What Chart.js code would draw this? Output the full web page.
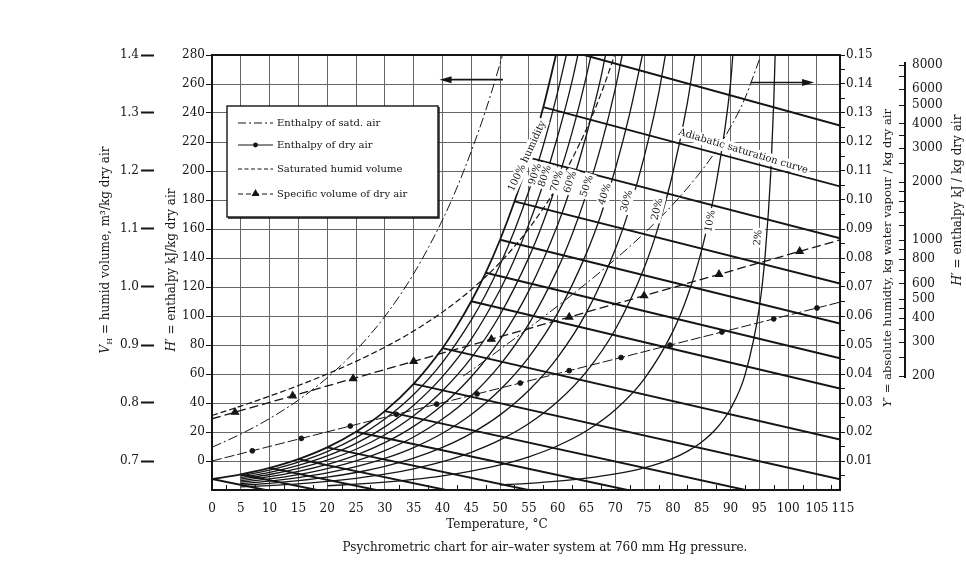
<!DOCTYPE html>
<html>
<head>
<meta charset="utf-8">
<script src="https://cdn.jsdelivr.net/npm/chart.js@4.4.0/dist/chart.umd.min.js"></script>
<style>
  html, body { margin: 0; padding: 0; background: #fff; }
</style>
</head>
<body>
<canvas id="chart" width="966" height="572"></canvas>
<script>
// ---- axis ticks ----
const tempTicks = [0, 5, 10, 15, 20, 25, 30, 35, 40, 45, 50, 55, 60, 65, 70, 75, 80, 85, 90, 95, 100, 105, 109];
const tempTickLabels = ['0', '5', '10', '15', '20', '25', '30', '35', '40', '45', '50', '55', '60', '65', '70', '75', '80', '85', '90', '95', '100', '105', '\u2002115'];
const tempMinorTicks = [2.5, 7.5, 12.5, 17.5, 22.5, 27.5, 32.5, 37.5, 42.5, 47.5, 52.5, 57.5, 62.5, 67.5, 72.5, 77.5, 82.5, 87.5, 92.5, 97.5, 102.5, 107.5];
const enthalpyTicks = [0, 20, 40, 60, 80, 100, 120, 140, 160, 180, 200, 220, 240, 260, 280];
const volumeTicks = [0.7, 0.8, 0.9, 1.0, 1.1, 1.2, 1.3, 1.4];
const humidityTicks = [0.005, 0.01, 0.015, 0.02, 0.025, 0.03, 0.035, 0.04, 0.045, 0.05, 0.055, 0.06, 0.065, 0.07, 0.075,
  0.08, 0.085, 0.09, 0.095, 0.1, 0.105, 0.11, 0.115, 0.12, 0.125, 0.13, 0.135, 0.14, 0.145, 0.15];
const logTicks = [200, 250, 300, 350, 400, 450, 500, 600, 700, 800, 900, 1000, 1200, 1400, 1600, 1800, 2000, 2500, 3000, 3500, 4000, 5000, 6000, 7000, 8000];
const logTickLabels = [200, 300, 400, 500, 600, 800, 1000, 2000, 3000, 4000, 5000, 6000, 8000];

// ---- percentage humidity curves: [temperature, Y kg/kg] ----
const rh100 = [[0,.00378],[5,.0054],[10,.00763],[15,.01065],[20,.0147],[25,.0201],[30,.0272],[35,.0366],[40,.0489],[42.5,.0565],[45,.0651],[47.5,.0749],[50,.0863],[52.5,.0995],[55,.1146],[57.5,.132],[59.7,.15]];
const rh90 = [[5,.00486],[10,.00687],[15,.00959],[20,.01323],[25,.01808],[30,.02449],[35,.03292],[40,.044],[45,.05855],[47.5,.0674],[50,.0777],[52.5,.0895],[55,.1031],[57.5,.1188],[60,.1373],[61.5,.15]];
const rh80 = [[5,.00432],[10,.0061],[15,.00852],[20,.01176],[25,.01607],[30,.02177],[35,.02926],[40,.03911],[45,.05205],[50,.06907],[52.5,.0796],[55,.09168],[57.5,.1056],[60,.122],[62.5,.141],[63.5,.15]];
const rh70 = [[5,.00378],[10,.00534],[15,.00746],[20,.01029],[25,.01406],[30,.01905],[35,.02561],[40,.03422],[45,.04554],[50,.06044],[55,.08022],[57.5,.0924],[60,.1068],[62.5,.1233],[65,.1429],[65.8,.15]];
const rh60 = [[5,.00324],[10,.00458],[15,.00639],[20,.00882],[25,.01205],[30,.01633],[35,.02195],[40,.02933],[45,.03904],[50,.0518],[55,.06876],[60,.0915],[62.5,.1057],[65,.1225],[67.5,.1422],[68.3,.15]];
const rh50 = [[5,.0027],[10,.00382],[15,.00533],[20,.00735],[25,.01005],[30,.01361],[35,.01829],[40,.02445],[45,.03253],[50,.04317],[55,.0573],[60,.07625],[62.5,.0881],[65,.1021],[67.5,.1185],[70,.1384],[71.2,.15]];
const rh40 = [[5,.00216],[10,.00305],[15,.00426],[20,.00588],[25,.00804],[30,.01088],[35,.01463],[40,.01956],[45,.02602],[50,.03454],[55,.04584],[60,.061],[65,.08168],[67.5,.0948],[70,.1107],[72.5,.1298],[74.7,.15]];
const rh30 = [[5,.00162],[10,.00229],[15,.0032],[20,.00441],[25,.00603],[30,.00816],[35,.01097],[40,.01467],[45,.01952],[50,.0259],[55,.03438],[60,.04575],[65,.06126],[70,.08304],[72.5,.0973],[75,.1148],[77.5,.1365],[78.7,.15]];
const rh20 = [[5,.00108],[10,.00153],[15,.00213],[20,.00294],[25,.00402],[30,.00544],[35,.00732],[40,.00978],[45,.01301],[50,.01727],[55,.02292],[60,.0305],[65,.04084],[70,.05536],[75,.07654],[77.5,.091],[80,.1094],[82.5,.1334],[83.8,.15]];
const rh10 = [[20,.00147],[25,.00201],[30,.00272],[35,.00366],[40,.00489],[45,.00651],[50,.00863],[55,.01146],[60,.01525],[65,.02042],[70,.02768],[75,.03827],[80,.0547],[82.5,.0667],[85,.08282],[87.5,.1056],[90,.1402],[90.4,.15]];
const rh2 = [[50,.00173],[55,.00229],[60,.00305],[65,.00408],[70,.00554],[75,.00765],[80,.01094],[82.5,.01334],[85,.01656],[87.5,.02111],[90,.02803],[92.5,.03959],[95,.063],[96,.0808],[97,.1099],[97.5,.1337],[97.74,.15]];

// ---- adiabatic saturation lines: start on saturation, end at edge ----
const adiabaticLines = [
  [[0, .00378], [9.3, 0]],
  [[5, .0054], [18.2, 0]],
  [[10, .00763], [28.5, 0]],
  [[15, .01065], [40.6, 0]],
  [[20, .0147], [54.9, 0]],
  [[25, .0201], [72.1, 0]],
  [[30, .0272], [92.6, 0]],
  [[35, .0366], [109, .0037]],
  [[40, .0489], [109, .0174]],
  [[45, .0651], [109, .035]],
  [[47.5, .0749], [109, .0454]],
  [[50, .0863], [109, .0574]],
  [[52.5, .0995], [109, .0712]],
  [[55, .1146], [109, .0868]],
  [[57.5, .132], [109, .1047]],
  [[64.6, .15], [109, .1257]]
];

// ---- enthalpy and volume curves ----
const satEnthalpyT = [0, 5, 10, 15, 20, 25, 30, 35, 40, 42.5, 45, 47.5, 50, 50.4];
const satEnthalpyH = [9.45, 18.59, 29.28, 42.01, 57.42, 76.34, 99.71, 129.1, 166.2, 188.4, 213.6, 241.7, 274.2, 280];
const satEnthalpyLogT = [43.6, 45, 50, 55, 60, 65, 70, 75, 80, 85, 87.5, 90, 92.5, 95];
const satEnthalpyLogH = [200, 213.6, 274.2, 353.7, 458.9, 601, 799, 1086.5, 1530.7, 2289, 2902, 3833, 5388, 8532];
const dryEnthalpyT = [0, 7, 15.5, 24, 32, 39, 46, 53.5, 62, 71, 79.5, 88.5, 97.5, 105, 109];
const dryEnthalpyH = [0, 7.04, 15.58, 24.12, 32.16, 39.2, 46.23, 53.77, 62.31, 71.36, 79.9, 88.94, 97.99, 105.53, 109.55];
const satVolumeT = [0, 5, 10, 15, 20, 25, 30, 35, 40, 45, 50, 55, 60, 65, 67.5, 69.9];
const satVolumeV = [.7784, .7947, .8118, .8301, .85, .8718, .8962, .9242, .9567, .9955, 1.0423, 1.1008, 1.1751, 1.2723, 1.3326, 1.4];
const dryVolumeT = [0, 4, 14, 24.5, 35, 48.5, 62, 75, 88, 102, 109];
const dryVolumeV = [.7728, .7841, .8124, .8421, .8718, .91, .9482, .985, 1.0218, 1.0614, 1.0812];

const legendLabels = ['Enthalpy of satd. air', 'Enthalpy of dry air', 'Saturated humid volume', 'Specific volume of dry air'];

// text on the curves (x = temperature, y = humidity), angle in degrees
const curveLabels = [
  { text: '100% humidity', x: 54.7, y: .1151, angle: -65 },
  { text: '90%', x: 56.1, y: .1089, angle: -72 },
  { text: '80%', x: 57.8, y: .1082, angle: -72 },
  { text: '70%', x: 59.9, y: .1065, angle: -72 },
  { text: '60%', x: 62.2, y: .1062, angle: -72 },
  { text: '50%', x: 65.1, y: .1048, angle: -72 },
  { text: '40%', x: 68.2, y: .102, angle: -73 },
  { text: '30%', x: 72, y: .0996, angle: -75 },
  { text: '20%', x: 77.3, y: .0968, angle: -76 },
  { text: '10%', x: 86.5, y: .0927, angle: -80 },
  { text: '2%', x: 94.8, y: .087, angle: -85 },
  { text: 'Adiabatic saturation curve', x: 92.2, y: .1168, angle: 16.7 }
];

const INK = '#151515';
const SERIF = '"DejaVu Serif", serif';
Chart.defaults.font.family = SERIF;
Chart.defaults.font.size = 12;
Chart.defaults.color = INK;

function pairs(arr) {
  return arr.map(p => ({ x: p[0], y: p[1] }));
}
function zip(xs, ys) {
  return xs.map((x, i) => ({ x: x, y: ys[i] }));
}

function buildDatasets() {
  const sets = [];
  const curves = [rh100, rh90, rh80, rh70, rh60, rh50, rh40, rh30, rh20, rh10, rh2];
  curves.forEach((c, i) => {
    sets.push({
      data: pairs(c), yAxisID: 'y', showLine: true, borderColor: INK,
      borderWidth: i === 0 ? 1.8 : 1.3, pointRadius: 0, cubicInterpolationMode: 'monotone'
    });
  });
  adiabaticLines.forEach(l => {
    sets.push({ data: pairs(l), yAxisID: 'y', showLine: true, borderColor: INK, borderWidth: 1.9, pointRadius: 0 });
  });
  sets.push({
    data: zip(satEnthalpyT, satEnthalpyH), yAxisID: 'h', showLine: true, borderColor: INK,
    borderWidth: 1, borderDash: [10, 3, 2, 3], pointRadius: 0, cubicInterpolationMode: 'monotone'
  });
  sets.push({
    data: zip(satEnthalpyLogT, satEnthalpyLogH), yAxisID: 'hl', showLine: true, borderColor: INK,
    borderWidth: 1, borderDash: [10, 3, 2, 3], pointRadius: 0, cubicInterpolationMode: 'monotone'
  });
  sets.push({
    data: zip(dryEnthalpyT, dryEnthalpyH), yAxisID: 'h', showLine: true, borderColor: INK,
    borderWidth: 1, borderDash: [10, 3], backgroundColor: INK,
    pointRadius: dryEnthalpyT.map((t, i) => (i === 0 || i === dryEnthalpyT.length - 1) ? 0 : 2.4)
  });
  sets.push({
    data: zip(satVolumeT, satVolumeV), yAxisID: 'v', showLine: true, borderColor: INK,
    borderWidth: 1.2, borderDash: [6, 3], pointRadius: 0, cubicInterpolationMode: 'monotone'
  });
  sets.push({
    data: zip(dryVolumeT, dryVolumeV), yAxisID: 'v', showLine: true, borderColor: INK,
    borderWidth: 1.3, borderDash: [9, 4], backgroundColor: INK, pointStyle: 'triangle',
    pointRadius: dryVolumeT.map((t, i) => (i === 0 || i === dryVolumeT.length - 1) ? 0 : 4)
  });
  return sets;
}

function arrow(ctx, x1, y1, x2, y2) {
  const dir = Math.sign(x2 - x1);
  ctx.beginPath();
  ctx.moveTo(x1, y1);
  ctx.lineTo(x2 - dir * 8, y2);
  ctx.stroke();
  ctx.beginPath();
  ctx.moveTo(x2, y2);
  ctx.lineTo(x2 - dir * 12, y2 - 3.5);
  ctx.lineTo(x2 - dir * 12, y2 + 3.5);
  ctx.closePath();
  ctx.fill();
}

// vertical title made of plain / italic / subscript pieces
function richTitle(ctx, parts, x, y, size) {
  const fontFor = s => (s === 'i' ? 'italic ' : '') + (s === 's' ? Math.round(size * 0.7) : size) + 'px ' + SERIF;
  let w = 0;
  parts.forEach(p => { ctx.font = fontFor(p[1]); w += ctx.measureText(p[0]).width; });
  ctx.save();
  ctx.translate(x, y);
  ctx.rotate(-Math.PI / 2);
  ctx.textAlign = 'left';
  ctx.textBaseline = 'middle';
  ctx.fillStyle = INK;
  let cx = -w / 2;
  parts.forEach(p => {
    ctx.font = fontFor(p[1]);
    ctx.fillText(p[0], cx, p[1] === 's' ? size * 0.3 : 0);
    cx += ctx.measureText(p[0]).width;
  });
  ctx.restore();
}

const overlay = {
  id: 'overlay',
  afterDatasetsDraw(chart) {
    const ctx = chart.ctx;
    const a = chart.chartArea;
    const sx = chart.scales.x, sy = chart.scales.y, sh = chart.scales.h, sl = chart.scales.hl;
    ctx.save();
    ctx.strokeStyle = INK;
    ctx.fillStyle = INK;

    // small temperature ticks standing inside the frame
    ctx.lineWidth = 1;
    tempMinorTicks.forEach(t => {
      const px = Math.round(sx.getPixelForValue(t)) + 0.5;
      ctx.beginPath();
      ctx.moveTo(px, a.bottom);
      ctx.lineTo(px, a.bottom - 5);
      ctx.stroke();
    });

    // top frame line
    ctx.lineWidth = 2;
    ctx.beginPath();
    ctx.moveTo(a.left - 1, a.top);
    ctx.lineTo(a.right + 1, a.top);
    ctx.stroke();

    // the log enthalpy axis only runs from 200 to 8000, ticks on its left
    ctx.beginPath();
    ctx.moveTo(sl.left, sl.getPixelForValue(8000) - 3);
    ctx.lineTo(sl.left, sl.getPixelForValue(200) + 2);
    ctx.stroke();
    ctx.lineWidth = 1;
    logTicks.forEach(v => {
      const py = Math.round(sl.getPixelForValue(v)) + 0.5;
      ctx.beginPath();
      ctx.moveTo(sl.left - 6, py);
      ctx.lineTo(sl.left, py);
      ctx.stroke();
    });

    // arrows telling which side to read
    ctx.lineWidth = 1.6;
    arrow(ctx, sx.getPixelForValue(50.5), sh.getPixelForValue(263), sx.getPixelForValue(39.5), sh.getPixelForValue(263));
    arrow(ctx, sx.getPixelForValue(93.5), sh.getPixelForValue(261), sx.getPixelForValue(104.5), sh.getPixelForValue(261));

    // labels on curves: white patches first, then text
    ctx.font = '10px ' + SERIF;
    const placed = curveLabels.map(l => ({
      l: l, px: sx.getPixelForValue(l.x), py: sy.getPixelForValue(l.y), w: ctx.measureText(l.text).width
    }));
    placed.forEach(p => {
      ctx.save();
      ctx.translate(p.px, p.py);
      ctx.rotate(p.l.angle * Math.PI / 180);
      ctx.fillStyle = '#fff';
      ctx.fillRect(-p.w / 2 - 2, -6, p.w + 4, 12);
      ctx.restore();
    });
    placed.forEach(p => {
      ctx.save();
      ctx.translate(p.px, p.py);
      ctx.rotate(p.l.angle * Math.PI / 180);
      ctx.fillStyle = INK;
      ctx.textAlign = 'center';
      ctx.textBaseline = 'middle';
      ctx.fillText(p.l.text, 0, 0);
      ctx.restore();
    });

    // legend box
    const bx = a.left + 15, by = a.top + 51, bw = 211, bh = 111;
    ctx.fillStyle = '#fff';
    ctx.fillRect(bx, by, bw, bh);
    ctx.lineWidth = 1.4;
    ctx.strokeStyle = INK;
    ctx.strokeRect(bx, by, bw, bh);
    ctx.beginPath();
    ctx.moveTo(bx + 1, by + bh + 1);
    ctx.lineTo(bx + bw + 1, by + bh + 1);
    ctx.lineTo(bx + bw + 1, by + 1);
    ctx.stroke();
    const rows = [17, 39, 63, 88];
    const dashes = [[8, 3, 2, 3], [], [4, 2.5], [5, 3]];
    ctx.font = '10px ' + SERIF;
    ctx.textBaseline = 'middle';
    ctx.textAlign = 'left';
    legendLabels.forEach((txt, i) => {
      const ly = by + rows[i];
      const x1 = bx + 11, x2 = bx + 46, xm = (x1 + x2) / 2;
      ctx.strokeStyle = INK;
      ctx.lineWidth = 1.1;
      ctx.setLineDash(dashes[i]);
      ctx.beginPath();
      ctx.moveTo(x1, ly);
      ctx.lineTo(x2, ly);
      ctx.stroke();
      ctx.setLineDash([]);
      ctx.fillStyle = INK;
      if (i === 1) {
        ctx.beginPath();
        ctx.arc(xm, ly, 2.4, 0, Math.PI * 2);
        ctx.fill();
      }
      if (i === 3) {
        ctx.beginPath();
        ctx.moveTo(xm, ly - 5);
        ctx.lineTo(xm - 4, ly + 2);
        ctx.lineTo(xm + 4, ly + 2);
        ctx.closePath();
        ctx.fill();
      }
      ctx.fillText(txt, bx + 50, ly + 0.5);
    });

    // axis titles
    richTitle(ctx, [['V', 'i'], ['H', 's'], [' = humid volume, m\u00b3/kg dry air', '']], 106, 250, 12);
    richTitle(ctx, [['H\u2032', 'i'], [' = enthalpy kJ/kg dry air', '']], 172, 270, 12);
    richTitle(ctx, [['Y\u2032', 'i'], [' = absolute humidty, kg water vapour / kg dry air', '']], 888, 258, 11.5);
    richTitle(ctx, [['H\u2032', 'i'], [' = enthalpy kJ / kg dry air', '']], 958, 200, 12);

    ctx.font = '12px ' + SERIF;
    ctx.textAlign = 'center';
    ctx.textBaseline = 'middle';
    ctx.fillStyle = INK;
    ctx.fillText('Temperature, \u00b0C', 497, 525);
    ctx.fillText('Psychrometric chart for air\u2013water system at 760 mm Hg pressure.', 545, 548);
    ctx.restore();
  }
};

new Chart(document.getElementById('chart'), {
  type: 'scatter',
  data: { datasets: buildDatasets() },
  options: {
    responsive: false,
    animation: false,
    devicePixelRatio: 1,
    events: [],
    layout: { padding: { left: 0, right: 0, top: 55, bottom: 34 } },
    plugins: { legend: { display: false }, tooltip: { enabled: false } },
    scales: {
      x: {
        type: 'linear', min: 0, max: 109,
        afterBuildTicks: s => { s.ticks = tempTicks.map(v => ({ value: v })); },
        afterFit: s => { s.height = 48; },
        ticks: {
          autoSkip: false, maxRotation: 0, padding: 12,
          callback: v => { const i = tempTicks.indexOf(v); return i >= 0 ? tempTickLabels[i] : ''; }
        },
        grid: {
          color: c => (c.tick && c.tick.value < 109) ? '#666' : 'rgba(0,0,0,0)',
          drawTicks: false, lineWidth: 1
        },
        border: { display: true, color: INK, width: 2 }
      },
      h: {
        type: 'linear', position: 'left', min: -20, max: 280, weight: 1,
        afterBuildTicks: s => { s.ticks = enthalpyTicks.map(v => ({ value: v })); },
        afterFit: s => { s.width = 58; },
        ticks: { autoSkip: false, padding: 1 },
        grid: { color: '#666', lineWidth: 1, tickColor: INK, tickLength: 6 },
        border: { display: true, color: INK, width: 2 }
      },
      v: {
        type: 'linear', position: 'left', min: 0.65, max: 1.4, weight: 2,
        afterBuildTicks: s => { s.ticks = volumeTicks.map(v => ({ value: v })); },
        afterFit: s => { s.width = 154; },
        ticks: { autoSkip: false, padding: 2, callback: v => v.toFixed(1) },
        grid: { drawOnChartArea: false, tickColor: INK, tickLength: 13, tickWidth: 2 },
        border: { display: false }
      },
      y: {
        type: 'linear', position: 'right', min: 0, max: 0.15, weight: 1,
        afterBuildTicks: s => { s.ticks = humidityTicks.map(v => ({ value: v })); },
        afterFit: s => { s.width = 65; },
        ticks: {
          autoSkip: false, padding: 1,
          callback: v => (Math.abs(v * 100 - Math.round(v * 100)) < 1e-6) ? v.toFixed(2) : ''
        },
        grid: { drawOnChartArea: false, tickColor: INK, tickLength: 5 },
        border: { display: true, color: INK, width: 2 }
      },
      hl: {
        type: 'logarithmic', position: 'right', min: 51.7, max: 9016, weight: 2,
        afterBuildTicks: s => { s.ticks = logTicks.map(v => ({ value: v })); },
        afterFit: s => { s.width = 61; },
        ticks: {
          autoSkip: false, padding: 7,
          callback: v => logTickLabels.indexOf(v) >= 0 ? String(v) : ''
        },
        grid: { drawOnChartArea: false, drawTicks: false },
        border: { display: false }
      }
    }
  },
  plugins: [overlay]
});
</script>
</body>
</html>
